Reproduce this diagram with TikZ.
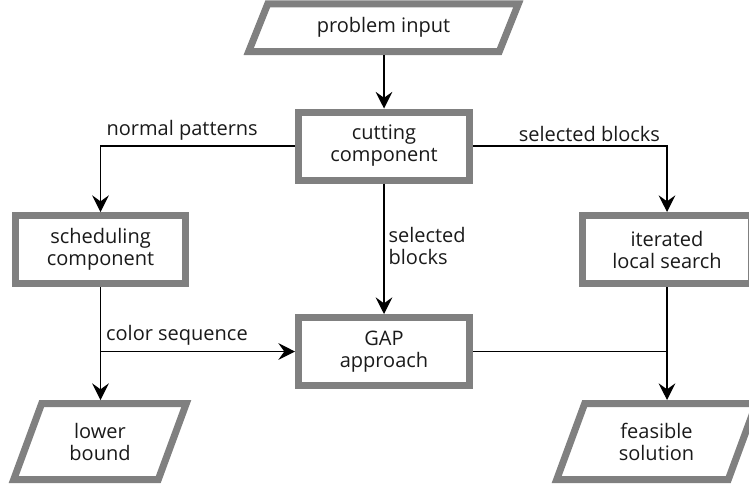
\documentclass[tikz,border=0pt]{standalone}
\usepackage{fontspec}
\setmainfont{Open Sans}
\usetikzlibrary{arrows.meta,calc}
\definecolor{boxgray}{HTML}{808080}
\definecolor{txt}{HTML}{1A1A1A}
\newcommand\drawpara[2]{\draw[pline] ($(#1.north west)+(#2+3.7,3.5)$) -- ($(#1.north east)+(-3.7,3.5)$) -- ($(#1.south east)+(-#2-3.7,-3.5)$) -- ($(#1.south west)+(3.7,-3.5)$) -- cycle;}
\begin{document}
\begin{tikzpicture}[x=0.75pt,y=-0.75pt,
  every node/.style={font=\fontsize{15}{16.5}\selectfont, text=txt},
  box/.style={draw=boxgray, line width=5.25pt, fill=white, align=center, inner sep=0pt, minimum height=51pt},
  pshape/.style={draw=none, inner sep=0pt, outer sep=0pt, align=center},
  pline/.style={draw=boxgray, line width=5.25pt, line join=miter},
  conn/.style={line width=0.9pt, draw=black},
  arr/.style={conn, -{Stealth[length=12.5pt,width=12.5pt,inset=4.5pt]}},
  lbl/.style={inner sep=0pt}
]
\useasboundingbox (0,0) rectangle (749,486);
% rectangular boxes
\node[box, minimum width=128.25pt] (cut) at (384,146) {cutting\\component};
\node[box, minimum width=127.5pt] (sched) at (100.5,249.5) {scheduling\\component};
\node[box, minimum width=126.75pt] (ils) at (667,249.5) {iterated\\local search};
\node[box, minimum width=128.25pt] (gap) at (384,351.5) {GAP\\approach};
% parallelogram nodes
\node[pshape, minimum width=207.75pt, minimum height=40.9pt] (pin) at (383.5,27.75) {problem input};
\node[pshape, minimum width=135pt, minimum height=62.25pt] (lb) at (100,441.5) {lower\\bound};
\node[pshape, minimum width=155.25pt, minimum height=62.25pt] (fs) at (656.5,441.5) {feasible\\solution};
\drawpara{pin}{19}
\drawpara{lb}{28}
\drawpara{fs}{28}
% connectors
\draw[arr] (cut.north |- pin.south) -- (cut.north);
\draw[arr] (cut.west) -| node[lbl, pos=0.29, anchor=base, yshift=8.25pt]{normal patterns} (sched.north);
\draw[arr] (cut.east) -| node[lbl, pos=0.30, anchor=base, yshift=3.75pt]{selected blocks} (ils.north);
\draw[arr] (cut.south) -- node[lbl, pos=0.48, anchor=west, xshift=3pt, align=left]{selected\\blocks} (gap.north);
\draw[arr] (sched.south) -- (sched.south |- lb.north);
\coordinate (cs) at (sched.south |- gap.west);
\draw[arr] (cs) -- node[lbl, pos=0, anchor=base west, xshift=3.75pt, yshift=8.25pt]{color sequence} (gap.west);
\draw[arr] (ils.south) -- (ils.south |- fs.north);
\coordinate (jn) at (ils.south |- gap.east);
\draw[conn] (gap.east) -- (jn);
\end{tikzpicture}
\end{document}
